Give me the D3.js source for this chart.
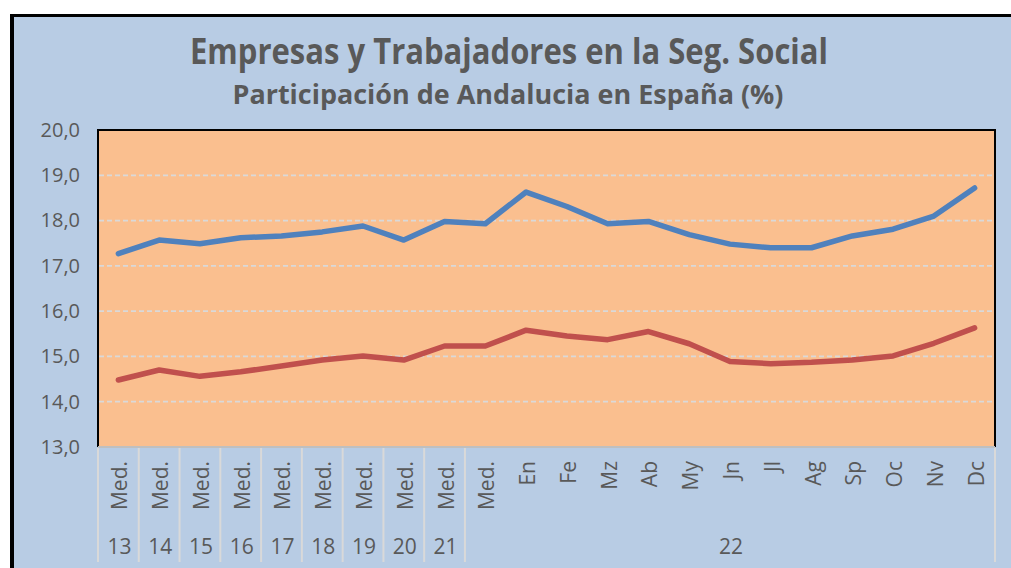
<!DOCTYPE html>
<html>
<head>
<meta charset="utf-8">
<script src="https://cdn.jsdelivr.net/npm/d3@7"></script>
<style>
  html, body { margin: 0; padding: 0; background: #ffffff; }
  svg { display: block; }
</style>
</head>
<body>
<svg id="chart" width="1011" height="568"></svg>
<script>
// ---- data ----
const categories = ["Med.","Med.","Med.","Med.","Med.","Med.","Med.","Med.","Med.","Med.",
  "En","Fe","Mz","Ab","My","Jn","Jl","Ag","Sp","Oc","Nv","Dc"];
const yearLabels = ["13","14","15","16","17","18","19","20","21","22"];
const yearSpans = [1,1,1,1,1,1,1,1,1,13]; // number of categories per year group
const empresas = [17.27,17.57,17.49,17.62,17.66,17.75,17.88,17.57,17.98,17.93,
  18.63,18.31,17.93,17.98,17.69,17.48,17.40,17.40,17.66,17.81,18.10,18.72];
const trabajadores = [14.48,14.70,14.56,14.66,14.79,14.92,15.01,14.92,15.23,15.23,
  15.58,15.45,15.37,15.55,15.28,14.89,14.84,14.87,14.92,15.01,15.29,15.63];
const yTicks = [13,14,15,16,17,18,19,20];
const titleText = "Empresas y Trabajadores en la Seg. Social";
const subtitleText = "Participación de Andalucia en España (%)";

// ---- layout ----
const W = 1011, H = 568;
const plot = {left: 98, right: 995, top: 130, bottom: 447};
const textColor = "#595959";
const font = "'Open Sans', 'Liberation Sans', sans-serif";

const svg = d3.select("#chart");

// chart background & frame
svg.append("rect").attr("x", 14).attr("y", 17).attr("width", W - 14).attr("height", H - 17)
  .attr("fill", "#b8cce4");
svg.append("line").attr("x1", 10).attr("x2", W).attr("y1", 15.5).attr("y2", 15.5)
  .attr("stroke", "#000").attr("stroke-width", 3);
svg.append("line").attr("x1", 12).attr("x2", 12).attr("y1", 14).attr("y2", H)
  .attr("stroke", "#000").attr("stroke-width", 4);

// scales
const x = d3.scaleBand().domain(d3.range(categories.length)).range([plot.left, plot.right]).paddingInner(0).paddingOuter(0);
const bw = x.bandwidth();
const cx = i => x(i) + bw / 2;
const y = d3.scaleLinear().domain([13, 20]).range([plot.bottom, plot.top]);

// plot area
svg.append("rect").attr("x", plot.left).attr("y", plot.top)
  .attr("width", plot.right - plot.left).attr("height", plot.bottom - plot.top)
  .attr("fill", "#fabf8f");

// gridlines
svg.append("g").selectAll("line").data(yTicks.filter(t => t > 13 && t < 20)).join("line")
  .attr("x1", plot.left + 1).attr("x2", plot.right - 1)
  .attr("y1", d => y(d)).attr("y2", d => y(d))
  .attr("stroke", "#d9d9d9").attr("stroke-width", 1.8).attr("stroke-dasharray", "5,3");

// plot border
svg.append("path")
  .attr("d", `M${plot.left},${plot.bottom}V${plot.top}H${plot.right}V${plot.bottom}`)
  .attr("fill", "none").attr("stroke", "#000").attr("stroke-width", 2);
svg.append("line").attr("x1", plot.left).attr("x2", plot.right)
  .attr("y1", plot.bottom).attr("y2", plot.bottom)
  .attr("stroke", "#bfbfbf").attr("stroke-width", 2);

// y axis labels
const yAxis = d3.axisLeft(y).tickValues(yTicks).tickSize(0).tickPadding(0)
  .tickFormat(d => d3.format(".1f")(d).replace(".", ","));
const gy = svg.append("g").attr("transform", `translate(80,0)`).call(yAxis);
gy.select(".domain").remove();
gy.selectAll("text").attr("fill", textColor).style("font-family", font).style("font-size", "20px");

// lines
const line = d3.line().x((d, i) => cx(i)).y(d => y(d));
svg.append("path").datum(trabajadores).attr("d", line)
  .attr("fill", "none").attr("stroke", "#c0504d").attr("stroke-width", 5.5)
  .attr("stroke-linejoin", "round").attr("stroke-linecap", "round");
svg.append("path").datum(empresas).attr("d", line)
  .attr("fill", "none").attr("stroke", "#4f81bd").attr("stroke-width", 5.5)
  .attr("stroke-linejoin", "round").attr("stroke-linecap", "round");

// category separators (full height between year groups)
const bounds = [0];
yearSpans.reduce((acc, s) => { bounds.push(acc + s); return acc + s; }, 0);
svg.append("g").selectAll("line").data(bounds).join("line")
  .attr("x1", d => plot.left + d * bw).attr("x2", d => plot.left + d * bw)
  .attr("y1", plot.bottom + 1).attr("y2", 562)
  .attr("stroke", "#d9d9d9").attr("stroke-width", 2);

// category labels (rotated)
svg.append("g").selectAll("text").data(categories).join("text")
  .attr("transform", (d, i) => `translate(${cx(i) + 1},461) rotate(-90)`)
  .attr("text-anchor", "end").attr("dominant-baseline", "central")
  .attr("fill", textColor).style("font-family", font).style("font-size", "21px")
  .text(d => d);

// year labels
const yearCenters = [];
let start = 0;
yearSpans.forEach(s => { yearCenters.push(plot.left + (start + s / 2) * bw); start += s; });
svg.append("g").selectAll("text").data(yearLabels).join("text")
  .attr("x", (d, i) => yearCenters[i] + 1).attr("y", 546)
  .attr("text-anchor", "middle").attr("dominant-baseline", "central")
  .attr("fill", textColor).style("font-family", font).style("font-size", "21px")
  .text(d => d);

// titles
svg.append("text").attr("x", 509).attr("y", 64).attr("text-anchor", "middle")
  .attr("fill", textColor).style("font-family", font).style("font-weight", "bold")
  .style("font-size", "36px").attr("textLength", 638).attr("lengthAdjust", "spacingAndGlyphs")
  .text(titleText);
svg.append("text").attr("x", 508).attr("y", 104).attr("text-anchor", "middle")
  .attr("fill", textColor).style("font-family", font).style("font-weight", "bold")
  .style("font-size", "26px").attr("textLength", 551).attr("lengthAdjust", "spacingAndGlyphs")
  .text(subtitleText);
</script>
</body>
</html>
